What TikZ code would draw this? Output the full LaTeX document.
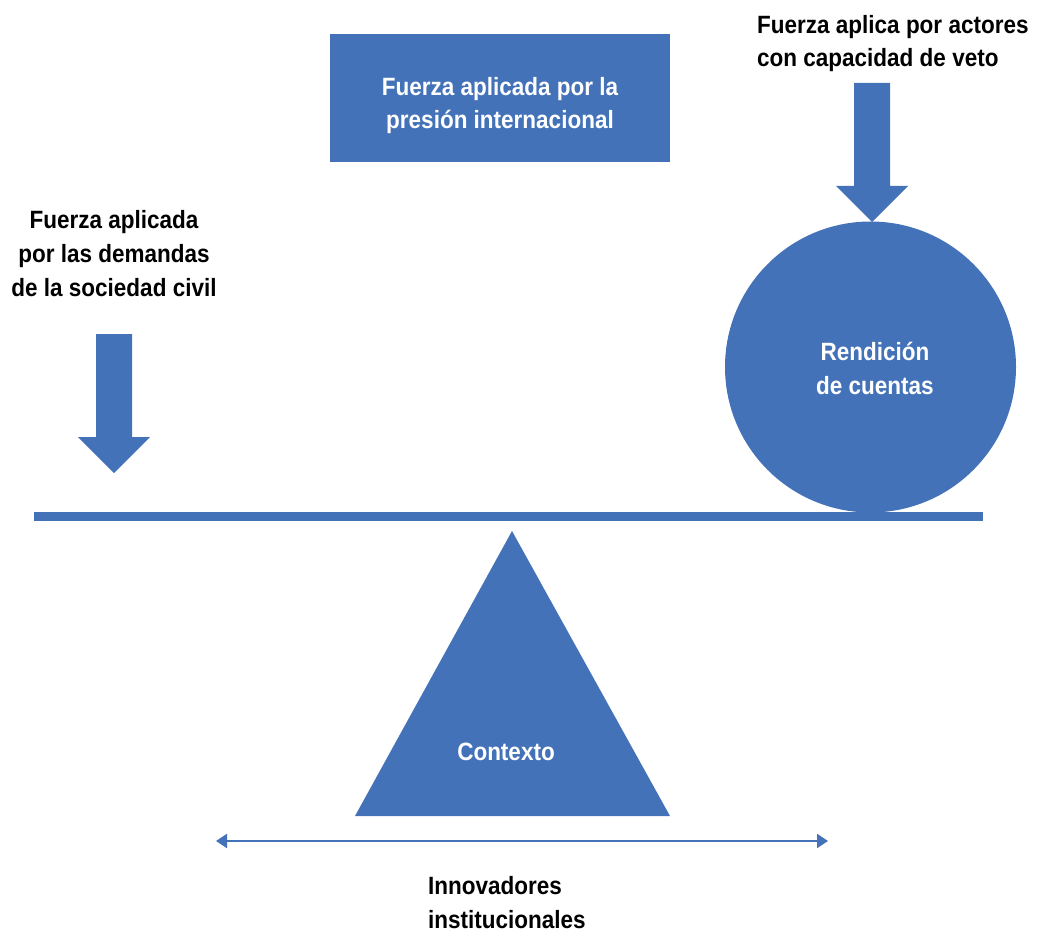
\documentclass[tikz,border=0pt]{standalone}
\usepackage{fontspec}
\setmainfont{Liberation Sans}[FakeStretch=0.9]
\usetikzlibrary{arrows.meta}
\definecolor{ofblue}{RGB}{68,114,184}
\tikzset{
  txt/.style={font=\fontsize{25}{33.5}\selectfont\bfseries, inner sep=0pt, text=black},
  wtxt/.style={txt, text=white},
  blueshape/.style={fill=ofblue, draw=none},
  downarrow/.pic={\fill[ofblue] (-18,0) -- (18,0) -- (18,103) -- (36,103) -- (0,139) -- (-36,103) -- (-18,103) -- cycle;}
}
\begin{document}
\begin{tikzpicture}[x=1pt,y=-1pt]
\useasboundingbox (0,0) rectangle (1038,933);
% top box
\node[blueshape, minimum width=340pt, minimum height=128pt, inner sep=0pt] (intl) at (499.5,98) {};
\node[wtxt, align=center, anchor=base] (intltxt) at (500,129) {Fuerza aplicada por la\\presión internacional};
% left text and arrow
\node[txt, align=center, anchor=base] (civil) at (114,296) {Fuerza aplicada\\por las demandas\\de la sociedad civil};
\pic at (114,334) {downarrow};
% right text and arrow
\node[txt, align=left, anchor=base west] (veto) at (757,67) {Fuerza aplica por actores\\con capacidad de veto};
\pic at (872,83) {downarrow};
% circle
\node[blueshape, circle, minimum size=291pt, inner sep=0pt] (rc) at (870.5,367) {};
\node[wtxt, align=center, anchor=base] (rctxt) at (875,394) {Rendición\\de cuentas};
% beam
\fill[ofblue] (34,512) rectangle (983,521);
% triangle
\coordinate (apex) at (512,531);
\coordinate (bl) at (355,816);
\coordinate (br) at (670,816);
\fill[ofblue] (apex) -- (br) -- (bl) -- cycle;
\node[wtxt, anchor=base] (ctx) at (506,760) {Contexto};
% double arrow
\coordinate (dl) at (216,841);
\coordinate (dr) at (828,841);
\draw[ofblue, line width=2pt, {Triangle[length=11pt,width=14pt]}-{Triangle[length=11pt,width=14pt]}] (dl) -- (dr);
\node[txt, align=left, anchor=base west] (innov) at (428,928) {Innovadores\\institucionales};
\end{tikzpicture}
\end{document}
